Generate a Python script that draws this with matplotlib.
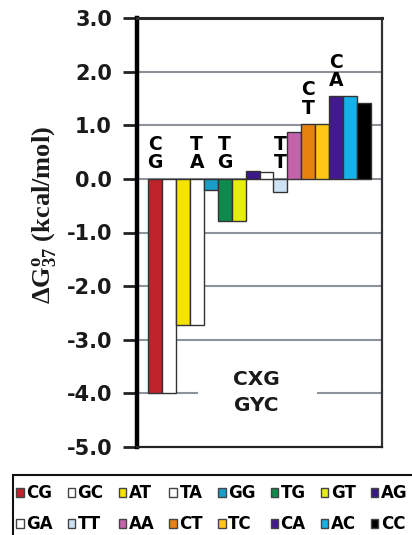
import matplotlib
matplotlib.use("Agg")
import matplotlib.pyplot as plt
from matplotlib.patches import Patch, Rectangle

# Mismatch pairs (X/Y in CXG/GYC) and their free-energy contributions
pairs = ["CG", "GC", "AT", "TA", "GG", "TG", "GT", "AG",
         "GA", "TT", "AA", "CT", "TC", "CA", "AC", "CC"]
dG37 = [-4.00, -4.00, -2.72, -2.72, -0.21, -0.78, -0.78, 0.15,
        0.13, -0.24, 0.88, 1.02, 1.02, 1.54, 1.54, 1.42]
bar_colors = ["#c0222c", "#ffffff", "#f6e400", "#ffffff", "#1a9ec8", "#0e8a4c",
              "#e6ee10", "#3a1888", "#ffffff", "#cde3f3", "#c463aa", "#e8820e",
              "#ffc816", "#42198f", "#14b2e8", "#000000"]

# Stacked letter labels written over selected bars
label_pairs = ["CG", "TA", "TG", "TT", "CT", "CA"]

yticks = [3.0, 2.0, 1.0, 0.0, -1.0, -2.0, -3.0, -4.0, -5.0]

plt.rcParams["mathtext.fontset"] = "custom"
plt.rcParams["mathtext.rm"] = "Liberation Serif:bold"
plt.rcParams["mathtext.bf"] = "Liberation Serif:bold"
plt.rcParams["mathtext.it"] = "Liberation Serif:bold"

fig = plt.figure(figsize=(4.12, 5.35), dpi=100)
ax = fig.add_axes([137 / 412, 1 - 447 / 535, 245 / 412, 429 / 535])

x = list(range(len(pairs)))
ax.bar(x, dG37, width=1.0, color=bar_colors, edgecolor="#333333",
       linewidth=1.0, zorder=3)

ax.set_xlim(-0.5 - 11 / 14, len(pairs) - 0.5 + 11 / 14)
ax.set_ylim(-5.0, 3.0)

# horizontal rules
grid_kw = dict(color="#8d939b", linewidth=1.5, zorder=1)
for g in [2.0, 1.0, 0.0, -1.0, -2.0, -3.0]:
    ax.axhline(g, **grid_kw)
ax.axhline(-4.0, xmin=0.0, xmax=0.245, **grid_kw)
ax.axhline(-4.0, xmin=0.74, xmax=1.0, **grid_kw)

for p in label_pairs:
    i = pairs.index(p)
    top = max(dG37[i], 0.0)
    ax.text(i, top + 0.12, p[0] + "\n" + p[1], ha="center", va="bottom",
            fontsize=13.5, fontweight="bold", family="DejaVu Sans",
            linespacing=0.95, zorder=4)

ax.text(7.3, -3.99, "CXG\nGYC", ha="center", va="center", fontsize=14.5,
        fontweight="bold", family="DejaVu Sans", linespacing=1.45,
        color="#1a1a1a", zorder=4)

ax.set_xticks([])
ax.set_yticks(yticks)
ax.set_yticklabels([f"{t:.1f}" for t in yticks], fontsize=15,
                   fontweight="bold", family="DejaVu Sans", color="#1a1a1a")
ax.tick_params(axis="y", direction="out", length=10, width=2,
               color="#222222", pad=8)

ax.spines["left"].set_linewidth(3.2)
ax.spines["left"].set_color("#000000")
ax.spines["top"].set_linewidth(2.2)
ax.spines["top"].set_color("#2a2a2a")
ax.spines["right"].set_linewidth(1.6)
ax.spines["right"].set_color("#333333")
ax.spines["bottom"].set_linewidth(1.6)
ax.spines["bottom"].set_color("#222222")
for s in ax.spines.values():
    s.set_zorder(5)

ax.set_ylabel(r"$\mathrm{\Delta G^{o}_{37}}$ (kcal/mol)", fontsize=19,
              fontweight="bold", family="Liberation Serif", color="#1a1a1a")
ax.yaxis.set_label_coords(-0.32, 0.54)

# legend: filled row by row, matplotlib fills column-major
handles = [Patch(facecolor=c, edgecolor="#444444", linewidth=1.0)
           for c in bar_colors]
ncol = 8
order = []
for c in range(ncol):
    order += [c, c + ncol]
leg = fig.legend([handles[k] for k in order], [pairs[k] for k in order],
                 ncol=ncol, loc="upper left",
                 bbox_to_anchor=(16 / 412, 1 - 484 / 535),
                 frameon=False, borderpad=0, borderaxespad=0,
                 handlelength=0.45, handleheight=0.45, handletextpad=0.15,
                 columnspacing=0.9, labelspacing=0.8,
                 prop=dict(family="DejaVu Sans", weight="bold", size=12))
fig.patches.append(Rectangle((13 / 412, -0.05), 1.0, 0.05 + 60 / 535,
                             transform=fig.transFigure, fill=False,
                             edgecolor="#111111", linewidth=1.5))

fig.savefig("out.png", dpi=100)
